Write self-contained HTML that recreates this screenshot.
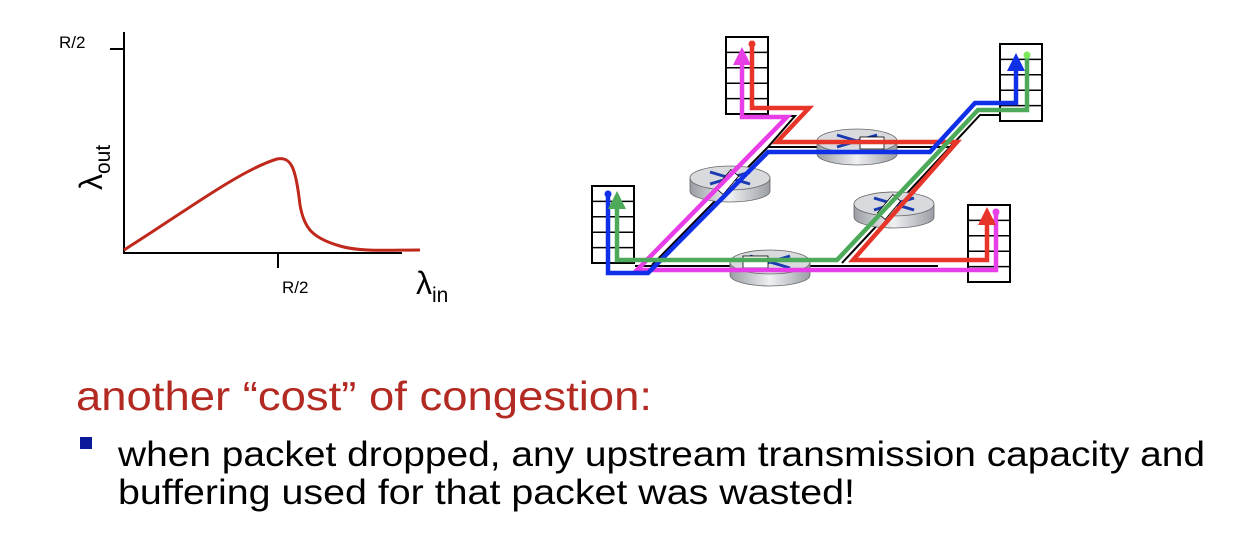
<!DOCTYPE html>
<html><head><meta charset="utf-8"><style>
html,body{margin:0;padding:0;background:#fff;}
svg{display:block;}
text{font-family:"Liberation Sans",sans-serif;}
</style></head><body>
<svg width="1252" height="548" viewBox="0 0 1252 548" xmlns="http://www.w3.org/2000/svg">
<defs>
<linearGradient id="rg" x1="0" x2="1" y1="0" y2="0">
<stop offset="0" stop-color="#9a9ea4"/><stop offset="0.5" stop-color="#eef0f2"/><stop offset="1" stop-color="#9a9ea4"/>
</linearGradient>
<marker id="ar" markerWidth="4" markerHeight="4" refX="2" refY="2" orient="auto" markerUnits="strokeWidth"><path d="M0,0 L4,2 L0,4z" fill="context-stroke"/></marker>
<g id="router">
<path d="M0,0 v13 a40,11 0 0 0 80,0 v-13" fill="url(#rg)" stroke="#666" stroke-width="0.8"/>
<ellipse cx="40" cy="0" rx="40" ry="12" fill="#d8dadd" stroke="#666" stroke-width="0.8"/>
<path d="M20,-6 L60,6 M20,6 L60,-6" stroke="#1a3bb0" stroke-width="3"/>
</g>
<g id="host">
<rect x="0" y="0" width="42" height="77" fill="#fff" stroke="#000" stroke-width="2"/>
<path d="M0,15.4 H42 M0,30.8 H42 M0,46.2 H42 M0,61.6 H42" stroke="#000" stroke-width="1.5"/>
</g>
</defs>

<line x1="124" y1="32" x2="124" y2="253" stroke="#000" stroke-width="2"/>
<line x1="110" y1="49" x2="124" y2="49" stroke="#000" stroke-width="2"/>
<line x1="123" y1="253" x2="402" y2="253" stroke="#000" stroke-width="2"/>
<line x1="278" y1="253" x2="278" y2="268" stroke="#000" stroke-width="2"/>
<text x="59" y="48" font-size="17">R/2</text>
<text x="282" y="293" font-size="17">R/2</text>
<text x="416" y="294" font-size="32">λ<tspan font-size="21" dy="8">in</tspan></text>
<text transform="translate(102,190) rotate(-90)" font-size="32">λ<tspan font-size="21" dy="8">out</tspan></text>
<path d="M124,250 C180,215 240,170 277,159 C292,156 296,170 300,205 C304,228 312,238 340,246 C360,252 390,250 420,250" fill="none" stroke="#c0281c" stroke-width="3"/>

<g stroke="#000" stroke-width="2" fill="none">
<path d="M635,266 H938"/>
<path d="M652,265 L768,147 H950"/>
<path d="M842,263 L980,115 H1000"/>
<path d="M768,147 L795,116 H742"/>
</g>
<use href="#router" x="817" y="141"/>
<use href="#router" x="690" y="178"/>
<use href="#router" x="854" y="204"/>
<use href="#router" x="730" y="262"/>
<g fill="#fff" stroke="#000" stroke-width="0.8">
<rect x="860" y="137" width="24" height="12"/>
<rect x="743" y="256" width="25" height="12"/>
<rect x="722" y="170" width="10" height="24" transform="rotate(40 727 182)"/>
<rect x="884" y="195" width="10" height="24" transform="rotate(40 889 207)"/>
</g>
<use href="#host" x="726" y="37"/>
<use href="#host" x="1000" y="44"/>
<use href="#host" x="592" y="186"/>
<use href="#host" x="968" y="205"/>

<g fill="none" stroke-width="4.5" stroke-linejoin="miter">
<path d="M996,212 V270 H637 L787,117 H742 V56" stroke="#e83ee8" marker-end="url(#ar)"/>
<path d="M752,44 V108 H809 L777,142 H957 L853,260 H987 V216" stroke="#e8352a" marker-end="url(#ar)"/>
<path d="M608,194 V273 H648 L768,152 H930 L975,103 H1016 V62" stroke="#1030e8" marker-end="url(#ar)"/>
<path d="M1027,55 V110 H978 L837,260 H617 V200" stroke="#4caa5a" marker-end="url(#ar)"/>
</g>
<circle cx="752" cy="44" r="3.5" fill="#e8352a"/>
<circle cx="608" cy="194" r="3.5" fill="#1030e8"/>
<circle cx="1027" cy="55" r="3.5" fill="#7ce85a"/>
<circle cx="996" cy="212" r="3.5" fill="#e83ee8"/>

<text x="76" y="410" font-size="41" fill="#b22a22" textLength="576" lengthAdjust="spacingAndGlyphs">another “cost” of congestion:</text>
<rect x="80" y="437" width="12" height="12" fill="#0a1a9a"/>
<text x="118" y="466" font-size="35" fill="#000" textLength="1087" lengthAdjust="spacingAndGlyphs">when packet dropped, any upstream transmission capacity and</text>
<text x="118" y="504" font-size="35" fill="#000" textLength="737" lengthAdjust="spacingAndGlyphs">buffering used for that packet was wasted!</text>
</svg>
</body></html>
